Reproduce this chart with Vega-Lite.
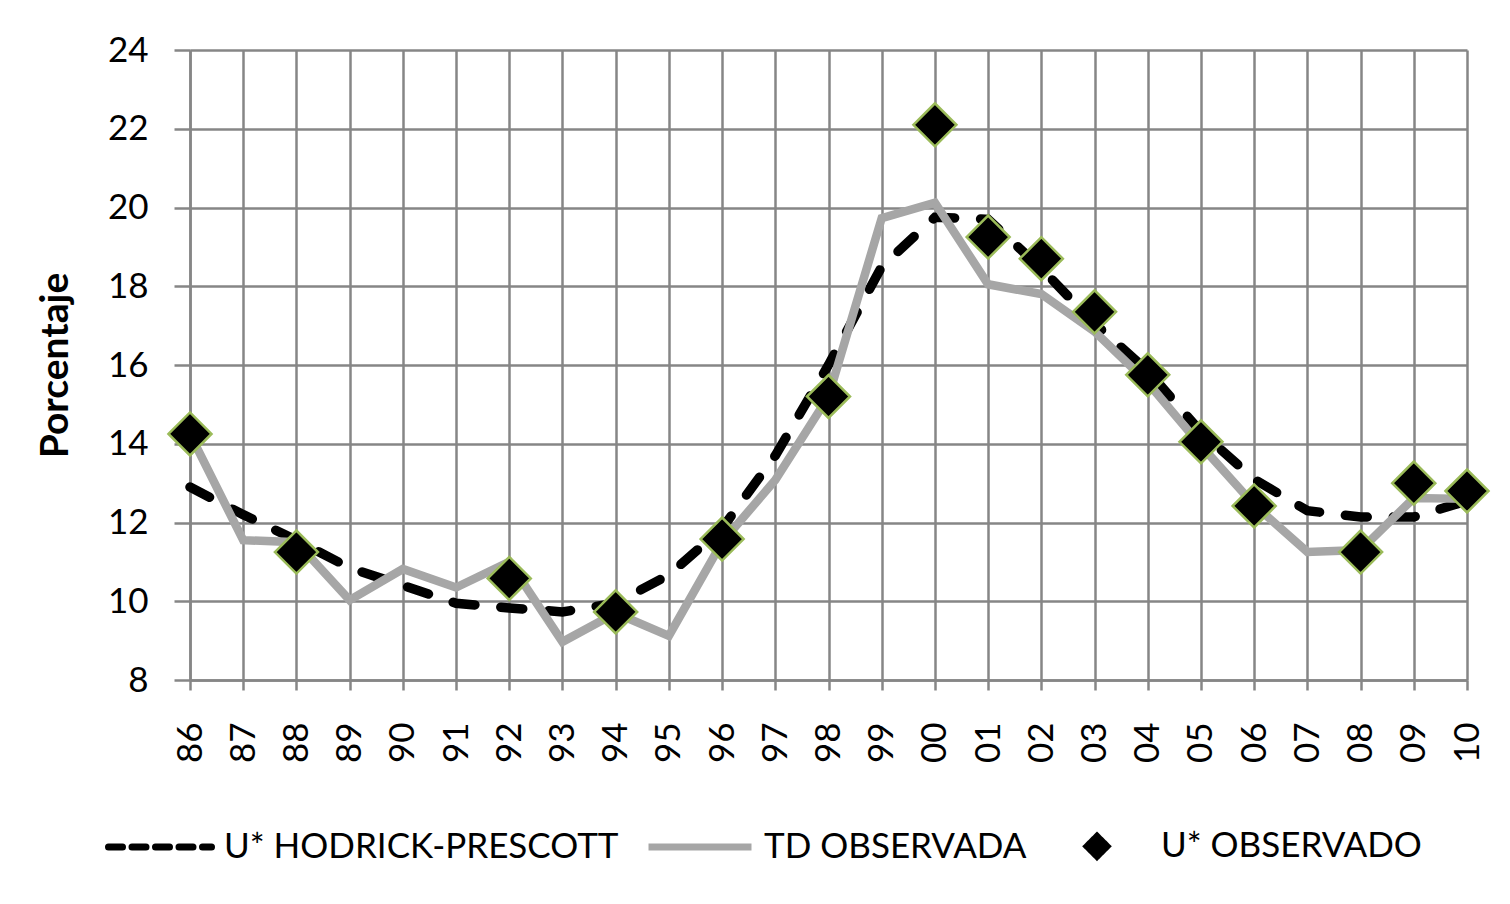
{
  "$schema": "https://vega.github.io/schema/vega-lite/v6.json",
  "width": 1277,
  "height": 630,
  "autosize": {"type": "none"},
  "padding": {"left": 190, "top": 50, "right": 43, "bottom": 224},
  "background": "white",
  "config": {
    "view": {"stroke": null},
    "font": "Lato",
    "axis": {
      "gridColor": "#868686", "gridWidth": 2.5, "gridOpacity": 1,
      "domainColor": "#868686", "domainWidth": 2.5,
      "tickColor": "#868686", "tickWidth": 2.5,
      "labelFont": "Lato", "labelFontSize": 35, "labelColor": "black",
      "titleColor": "black"
    }
  },
  "datasets": {
    "series": [
      {"anio": 1986, "serie": "U* HODRICK-PRESCOTT", "valor": 12.9},
      {"anio": 1987, "serie": "U* HODRICK-PRESCOTT", "valor": 12.2},
      {"anio": 1988, "serie": "U* HODRICK-PRESCOTT", "valor": 11.55},
      {"anio": 1989, "serie": "U* HODRICK-PRESCOTT", "valor": 10.85},
      {"anio": 1990, "serie": "U* HODRICK-PRESCOTT", "valor": 10.4},
      {"anio": 1991, "serie": "U* HODRICK-PRESCOTT", "valor": 9.95},
      {"anio": 1992, "serie": "U* HODRICK-PRESCOTT", "valor": 9.83},
      {"anio": 1993, "serie": "U* HODRICK-PRESCOTT", "valor": 9.73},
      {"anio": 1994, "serie": "U* HODRICK-PRESCOTT", "valor": 9.95},
      {"anio": 1995, "serie": "U* HODRICK-PRESCOTT", "valor": 10.67},
      {"anio": 1996, "serie": "U* HODRICK-PRESCOTT", "valor": 11.85},
      {"anio": 1997, "serie": "U* HODRICK-PRESCOTT", "valor": 13.7},
      {"anio": 1998, "serie": "U* HODRICK-PRESCOTT", "valor": 16.0},
      {"anio": 1999, "serie": "U* HODRICK-PRESCOTT", "valor": 18.5},
      {"anio": 2000, "serie": "U* HODRICK-PRESCOTT", "valor": 19.75},
      {"anio": 2001, "serie": "U* HODRICK-PRESCOTT", "valor": 19.7},
      {"anio": 2002, "serie": "U* HODRICK-PRESCOTT", "valor": 18.45},
      {"anio": 2003, "serie": "U* HODRICK-PRESCOTT", "valor": 17.05},
      {"anio": 2004, "serie": "U* HODRICK-PRESCOTT", "valor": 15.85},
      {"anio": 2005, "serie": "U* HODRICK-PRESCOTT", "valor": 14.3},
      {"anio": 2006, "serie": "U* HODRICK-PRESCOTT", "valor": 13.1},
      {"anio": 2007, "serie": "U* HODRICK-PRESCOTT", "valor": 12.3},
      {"anio": 2008, "serie": "U* HODRICK-PRESCOTT", "valor": 12.14},
      {"anio": 2009, "serie": "U* HODRICK-PRESCOTT", "valor": 12.14},
      {"anio": 2010, "serie": "U* HODRICK-PRESCOTT", "valor": 12.55},
      {"anio": 1986, "serie": "TD OBSERVADA", "valor": 14.25},
      {"anio": 1987, "serie": "TD OBSERVADA", "valor": 11.55},
      {"anio": 1988, "serie": "TD OBSERVADA", "valor": 11.5},
      {"anio": 1989, "serie": "TD OBSERVADA", "valor": 10.03},
      {"anio": 1990, "serie": "TD OBSERVADA", "valor": 10.82},
      {"anio": 1991, "serie": "TD OBSERVADA", "valor": 10.35},
      {"anio": 1992, "serie": "TD OBSERVADA", "valor": 11.0},
      {"anio": 1993, "serie": "TD OBSERVADA", "valor": 8.97},
      {"anio": 1994, "serie": "TD OBSERVADA", "valor": 9.7},
      {"anio": 1995, "serie": "TD OBSERVADA", "valor": 9.12},
      {"anio": 1996, "serie": "TD OBSERVADA", "valor": 11.5},
      {"anio": 1997, "serie": "TD OBSERVADA", "valor": 13.08},
      {"anio": 1998, "serie": "TD OBSERVADA", "valor": 15.2},
      {"anio": 1999, "serie": "TD OBSERVADA", "valor": 19.73},
      {"anio": 2000, "serie": "TD OBSERVADA", "valor": 20.12},
      {"anio": 2001, "serie": "TD OBSERVADA", "valor": 18.05},
      {"anio": 2002, "serie": "TD OBSERVADA", "valor": 17.8},
      {"anio": 2003, "serie": "TD OBSERVADA", "valor": 16.85},
      {"anio": 2004, "serie": "TD OBSERVADA", "valor": 15.55},
      {"anio": 2005, "serie": "TD OBSERVADA", "valor": 13.95},
      {"anio": 2006, "serie": "TD OBSERVADA", "valor": 12.45},
      {"anio": 2007, "serie": "TD OBSERVADA", "valor": 11.25},
      {"anio": 2008, "serie": "TD OBSERVADA", "valor": 11.3},
      {"anio": 2009, "serie": "TD OBSERVADA", "valor": 12.62},
      {"anio": 2010, "serie": "TD OBSERVADA", "valor": 12.6},
      {"anio": 1986, "serie": "U* OBSERVADO", "valor": 14.25},
      {"anio": 1988, "serie": "U* OBSERVADO", "valor": 11.25},
      {"anio": 1992, "serie": "U* OBSERVADO", "valor": 10.58},
      {"anio": 1994, "serie": "U* OBSERVADO", "valor": 9.73},
      {"anio": 1996, "serie": "U* OBSERVADO", "valor": 11.58},
      {"anio": 1998, "serie": "U* OBSERVADO", "valor": 15.2},
      {"anio": 2000, "serie": "U* OBSERVADO", "valor": 22.1},
      {"anio": 2001, "serie": "U* OBSERVADO", "valor": 19.25},
      {"anio": 2002, "serie": "U* OBSERVADO", "valor": 18.7},
      {"anio": 2003, "serie": "U* OBSERVADO", "valor": 17.35},
      {"anio": 2004, "serie": "U* OBSERVADO", "valor": 15.75},
      {"anio": 2005, "serie": "U* OBSERVADO", "valor": 14.05},
      {"anio": 2006, "serie": "U* OBSERVADO", "valor": 12.42},
      {"anio": 2008, "serie": "U* OBSERVADO", "valor": 11.25},
      {"anio": 2009, "serie": "U* OBSERVADO", "valor": 13.0},
      {"anio": 2010, "serie": "U* OBSERVADO", "valor": 12.8}
    ]
  },
  "data": {"name": "series"},
  "encoding": {
    "x": {
      "field": "anio", "type": "quantitative",
      "scale": {"domain": [1986, 2010], "nice": false, "zero": false},
      "axis": {
        "title": null,
        "values": [1986,1987,1988,1989,1990,1991,1992,1993,1994,1995,1996,1997,1998,1999,2000,2001,2002,2003,2004,2005,2006,2007,2008,2009,2010],
        "labelExpr": "slice(toString(datum.value), 2)",
        "labelAngle": -90,
        "labelOverlap": false,
        "labelFlush": false,
        "labelBound": false,
        "tickSize": 10,
        "labelPadding": 32,
        "grid": true
      }
    },
    "y": {
      "field": "valor", "type": "quantitative",
      "scale": {"domain": [8, 24], "nice": false, "zero": false},
      "axis": {
        "values": [8, 10, 12, 14, 16, 18, 20, 22, 24],
        "title": "Porcentaje",
        "titleFont": "Lato",
        "titleFontSize": 39,
        "titleFontWeight": "bold",
        "titlePadding": 32,
        "tickSize": 16,
        "labelPadding": 26,
        "grid": true
      }
    },
    "color": {
      "field": "serie", "type": "nominal",
      "scale": {
        "domain": ["U* HODRICK-PRESCOTT", "TD OBSERVADA", "U* OBSERVADO"],
        "range": ["black", "#A6A6A6", "black"]
      },
      "legend": {
        "title": null,
        "orient": "none",
        "legendX": -85,
        "legendY": 741,
        "direction": "horizontal",
        "padding": 0,
        "columnPadding": 15,
        "symbolSize": 10609,
        "symbolStrokeWidth": 7,
        "symbolType": "stroke",
        "labelFont": "Lato",
        "labelFontSize": 35,
        "labelColor": "black",
        "labelLimit": 1000,
        "labelOffset": 9,
        "encode": {
          "symbols": {
            "update": {
              "shape": {"signal": "(datum.value === 'U* OBSERVADO' ? 'M-0.24,0L0,-0.24L0.24,0L0,0.24Z' : 'stroke')"},
              "strokeDash": {"signal": "(datum.value === 'U* HODRICK-PRESCOTT' ? [14,9.5] : [1,0])"},
              "strokeCap": {"signal": "(datum.value === 'U* HODRICK-PRESCOTT' ? 'round' : 'butt')"},
              "strokeWidth": {"signal": "(datum.value === 'U* OBSERVADO' ? 3.5 : 7)"},
              "stroke": {"signal": "(datum.value === 'U* OBSERVADO' ? '#9BBB59' : (datum.value === 'TD OBSERVADA' ? '#A6A6A6' : 'black'))"},
              "fill": {"signal": "(datum.value === 'U* OBSERVADO' ? 'black' : 'transparent')"},
              "opacity": {"value": 1}
            }
          }
        }
      }
    }
  },
  "layer": [
    {
      "transform": [{"filter": "datum.serie === 'U* HODRICK-PRESCOTT'"}],
      "mark": {"type": "line", "strokeWidth": 9.5, "strokeDash": [22, 26], "strokeCap": "round"}
    },
    {
      "transform": [{"filter": "datum.serie === 'TD OBSERVADA'"}],
      "mark": {"type": "line", "strokeWidth": 8.5}
    },
    {
      "transform": [{"filter": "datum.serie === 'U* OBSERVADO'"}],
      "mark": {"type": "point", "shape": "diamond", "filled": true, "size": 1850, "stroke": "#9BBB59", "strokeWidth": 2.5, "opacity": 1}
    }
  ]
}
